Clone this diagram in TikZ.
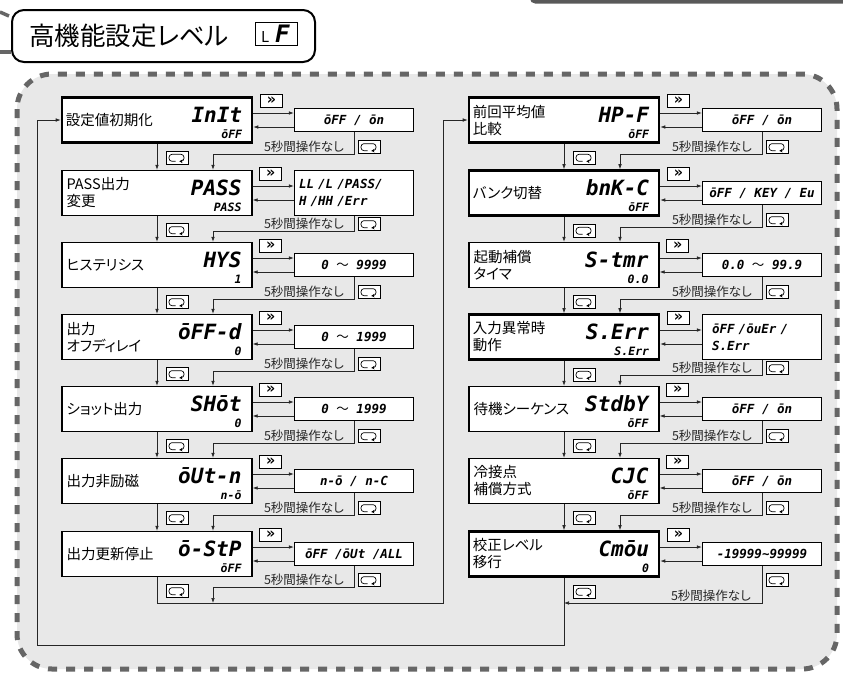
\documentclass[tikz,border=0pt]{standalone}
\usepackage{fontspec}
\setmainfont{Noto Sans CJK JP}[RawFeature=+palt]
\newfontfamily\segfont{DejaVu Sans Mono}
\newcommand\segtxt{\segfont\bfseries\itshape}
\usetikzlibrary{arrows.meta}

\begin{document}
\begin{tikzpicture}[x=1pt,y=-1pt,
	link/.style={draw=black!85, line width=0.7pt},
	arr/.style={link, -{Latex[length=5pt,width=3.6pt]}},
	mainbox/.style={draw, fill=white, line width=1.3pt, minimum width=190, minimum height=45, inner sep=0},
	boldbox/.style={mainbox, line width=2.6pt},
	valbox/.style={draw, fill=white, line width=1.3pt, minimum width=119, minimum height=23, inner sep=0,
		font=\segtxt\fontsize{12.5}{15}\selectfont},
	valbox2/.style={valbox, minimum height=45, align=left, font=\segtxt\fontsize{12.5}{17}\selectfont},
	tag/.style={anchor=west, align=left, inner sep=0, font=\fontsize{14.5}{17}\selectfont},
	code/.style={anchor=east, inner sep=0, font=\segtxt\fontsize{21}{21}\selectfont},
	subcode/.style={anchor=east, inner sep=0, font=\segtxt\fontsize{11.5}{12}\selectfont},
	note/.style={anchor=east, inner sep=0, text=black!85, font=\fontsize{12.5}{13}\selectfont},
	fwdkey/.style={draw, fill=white, line width=0.7pt, minimum width=22, minimum height=13, inner sep=0,
		font=\segfont\bfseries\fontsize{15}{15}\selectfont},
	loopkey/.style={fwdkey, path picture={
		\draw[line width=0.7pt, rounded corners=3pt, -{Stealth[length=3pt,width=3.6pt]}]
			([shift={(-1.5pt,-3.5pt)}]path picture bounding box.center) -- ++(-6.5pt,0) -- ++(0,7pt)
			-- ++(15pt,0) -- ++(0,-7pt) -- ++(-4.5pt,0);}}]

	\useasboundingbox (0,0) rectangle (843,675);

	% Cornice della pagina
	\fill[black!65, rounded corners=5] (530,-10) rectangle (850,3.5);
	\draw[black!60, line width=3.5pt] (0,12) -- (9,16);
	\draw[black!60, line width=3.5pt] (0,52) -- (11,52);

	% Titolo
	\node[draw, fill=white, line width=2pt, rounded corners=12, minimum width=303, minimum height=52] (hd) at (163.5,36) {};
	\node[anchor=west, inner sep=0, font=\fontsize{25.5}{26}\selectfont] (hdt) at (29,36) {高機能設定レベル};
	\node[draw, line width=1pt, minimum width=42, minimum height=23, inner sep=0] (hdlf) at (276,33.5) {};
	\node[anchor=base west, inner sep=0, font=\fontsize{15}{15}\selectfont] (hdl) at (261,42) {L};
	\node[anchor=base west, inner sep=0, font=\segtxt\fontsize{24}{24}\selectfont] (hdf) at (275,42) {F};

	% Area tratteggiata
	\draw[black!60, fill=gray!18, line width=5pt, dash pattern=on 9pt off 9pt, rounded corners=35]
		(17,74) rectangle (837,669);

	% Colonna sinistra
	\node[boldbox] (l1) at (157,120) {};
	\node[tag] (l1t) at ([xshift=5]l1.west) {設定値初期化};
	\node[code] (l1c) at ([xshift=-11,yshift=5]l1.east) {InIt};
	\node[subcode] (l1s) at ([xshift=-11,yshift=-14]l1.east) {ōFF};
	\node[valbox] (lv1) at (354,120) {ōFF / ōn};

	\node[mainbox] (l2) at (157,193) {};
	\node[tag] (l2t) at ([xshift=5]l2.west) {PASS出力\\変更};
	\node[code] (l2c) at ([xshift=-11,yshift=5]l2.east) {PASS};
	\node[subcode] (l2s) at ([xshift=-11,yshift=-14]l2.east) {PASS};
	\node[valbox2, text width=110] (lv2) at (354,193) {LL /L /PASS/\\H /HH /Err};

	\node[mainbox] (l3) at (157,265) {};
	\node[tag] (l3t) at ([xshift=5]l3.west) {ヒステリシス};
	\node[code] (l3c) at ([xshift=-11,yshift=5]l3.east) {HYS};
	\node[subcode] (l3s) at ([xshift=-11,yshift=-14]l3.east) {1};
	\node[valbox] (lv3) at (354,265) {0 {\normalfont 〜} 9999};

	\node[mainbox] (l4) at (157,337) {};
	\node[tag] (l4t) at ([xshift=5]l4.west) {出力\\オフディレイ};
	\node[code] (l4c) at ([xshift=-11,yshift=5]l4.east) {ōFF-d};
	\node[subcode] (l4s) at ([xshift=-11,yshift=-14]l4.east) {0};
	\node[valbox] (lv4) at (354,337) {0 {\normalfont 〜} 1999};

	\node[mainbox] (l5) at (157,409) {};
	\node[tag] (l5t) at ([xshift=5]l5.west) {ショット出力};
	\node[code] (l5c) at ([xshift=-11,yshift=5]l5.east) {SHōt};
	\node[subcode] (l5s) at ([xshift=-11,yshift=-14]l5.east) {0};
	\node[valbox] (lv5) at (354,409) {0 {\normalfont 〜} 1999};

	\node[mainbox] (l6) at (157,481) {};
	\node[tag] (l6t) at ([xshift=5]l6.west) {出力非励磁};
	\node[code] (l6c) at ([xshift=-11,yshift=5]l6.east) {ōUt-n};
	\node[subcode] (l6s) at ([xshift=-11,yshift=-14]l6.east) {n-ō};
	\node[valbox] (lv6) at (354,481) {n-ō / n-C};

	\node[mainbox] (l7) at (157,554) {};
	\node[tag] (l7t) at ([xshift=5]l7.west) {出力更新停止};
	\node[code] (l7c) at ([xshift=-11,yshift=5]l7.east) {ō-StP};
	\node[subcode] (l7s) at ([xshift=-11,yshift=-14]l7.east) {ōFF};
	\node[valbox] (lv7) at (354,554) {ōFF /ōUt /ALL};

	% Colonna destra
	\node[boldbox] (r1) at (564,120) {};
	\node[tag] (r1t) at ([xshift=5]r1.west) {前回平均値\\比較};
	\node[code] (r1c) at ([xshift=-11,yshift=5]r1.east) {HP-F};
	\node[subcode] (r1s) at ([xshift=-11,yshift=-14]r1.east) {ōFF};
	\node[valbox] (rv1) at (762,120) {ōFF / ōn};

	\node[boldbox] (r2) at (564,193) {};
	\node[tag] (r2t) at ([xshift=5]r2.west) {バンク切替};
	\node[code] (r2c) at ([xshift=-11,yshift=5]r2.east) {bnK-C};
	\node[subcode] (r2s) at ([xshift=-11,yshift=-14]r2.east) {ōFF};
	\node[valbox] (rv2) at (762,193) {ōFF / KEY / Eu};

	\node[mainbox] (r3) at (564,265) {};
	\node[tag] (r3t) at ([xshift=5]r3.west) {起動補償\\タイマ};
	\node[code] (r3c) at ([xshift=-11,yshift=5]r3.east) {S-tmr};
	\node[subcode] (r3s) at ([xshift=-11,yshift=-14]r3.east) {0.0};
	\node[valbox] (rv3) at (762,265) {0.0 {\normalfont 〜} 99.9};

	\node[boldbox] (r4) at (564,337) {};
	\node[tag] (r4t) at ([xshift=5]r4.west) {入力異常時\\動作};
	\node[code] (r4c) at ([xshift=-11,yshift=5]r4.east) {S.Err};
	\node[subcode] (r4s) at ([xshift=-11,yshift=-14]r4.east) {S.Err};
	\node[valbox2, text width=100] (rv4) at (762,337) {ōFF /ōuEr /\\S.Err};

	\node[mainbox] (r5) at (564,409) {};
	\node[tag] (r5t) at ([xshift=5]r5.west) {待機シーケンス};
	\node[code] (r5c) at ([xshift=-11,yshift=5]r5.east) {StdbY};
	\node[subcode] (r5s) at ([xshift=-11,yshift=-14]r5.east) {ōFF};
	\node[valbox] (rv5) at (762,409) {ōFF / ōn};

	\node[mainbox] (r6) at (564,481) {};
	\node[tag] (r6t) at ([xshift=5]r6.west) {冷接点\\補償方式};
	\node[code] (r6c) at ([xshift=-11,yshift=5]r6.east) {CJC};
	\node[subcode] (r6s) at ([xshift=-11,yshift=-14]r6.east) {ōFF};
	\node[valbox] (rv6) at (762,481) {ōFF / ōn};

	\node[boldbox] (r7) at (564,554) {};
	\node[tag] (r7t) at ([xshift=5]r7.west) {校正レベル\\移行};
	\node[code] (r7c) at ([xshift=-11,yshift=5]r7.east) {Cmōu};
	\node[subcode] (r7s) at ([xshift=-11,yshift=-14]r7.east) {0};
	\node[valbox] (rv7) at (762,554) {-19999\textasciitilde 99999};

	% Tasti e frecce di ogni riga
	\foreach \c in {l,r} {
		\foreach \i in {1,...,7} {
			\draw[arr] ([yshift=7]\c\i.east) -- ([yshift=7]\c v\i.west);
			\draw[arr] ([yshift=-7]\c v\i.west) -- ([yshift=-7]\c\i.east);
			\node[fwdkey] (\c k\i) at ([xshift=18,yshift=19]\c\i.east) {»};
			\node[loopkey] (\c d\i) at ([xshift=20,yshift=-14]\c\i.south) {};
		}
	}

	% Passaggi verso la riga successiva
	\foreach \c/\i/\j/\o/\h in {l/1/2/22/15, l/2/3/15/8, l/3/4/22/15, l/4/5/22/15, l/5/6/22/15, l/6/7/22/15,
		r/1/2/22/15, r/2/3/22/15, r/3/4/22/15, r/4/5/15/8, r/5/6/22/15, r/6/7/22/15} {
		\draw[arr] (\c\i.south) -- (\c\j.north);
		\draw[arr] (\c v\i.south) -- ++(0,\o) -| ([xshift=56]\c\j.north);
		\node[note] (\c n\i) at ([xshift=-10,yshift=-\h]\c v\i.south) {5秒間操作なし};
		\node[loopkey] (\c r\i) at ([xshift=15,yshift=-\h]\c v\i.south) {};
	}

	% Ultima riga a sinistra e passaggio a destra
	\coordinate (colL) at (443,603);
	\coordinate (l7x) at (213,603);
	\coordinate (loopR) at (37,645);
	\draw[arr] (lv7.south) -- ++(0,21) -| (l7x);
	\node[note] (ln7) at ([xshift=-10,yshift=-14]lv7.south) {5秒間操作なし};
	\node[loopkey] (lr7) at ([xshift=15,yshift=-14]lv7.south) {};
	\draw[arr] (l7.south) |- (colL) |- (r1.west);

	% Ultima riga a destra e ritorno all'inizio
	\draw[arr] (rv7.south) |- (r7.south |- colL);
	\node[loopkey] (rr7) at ([xshift=15,yshift=-14]rv7.south) {};
	\node[note] (rn7) at ([xshift=-11,yshift=-30]rv7.south) {5秒間操作なし};
	\draw[arr] (r7.south) |- (loopR) |- (l1.west);
\end{tikzpicture}
\end{document}
